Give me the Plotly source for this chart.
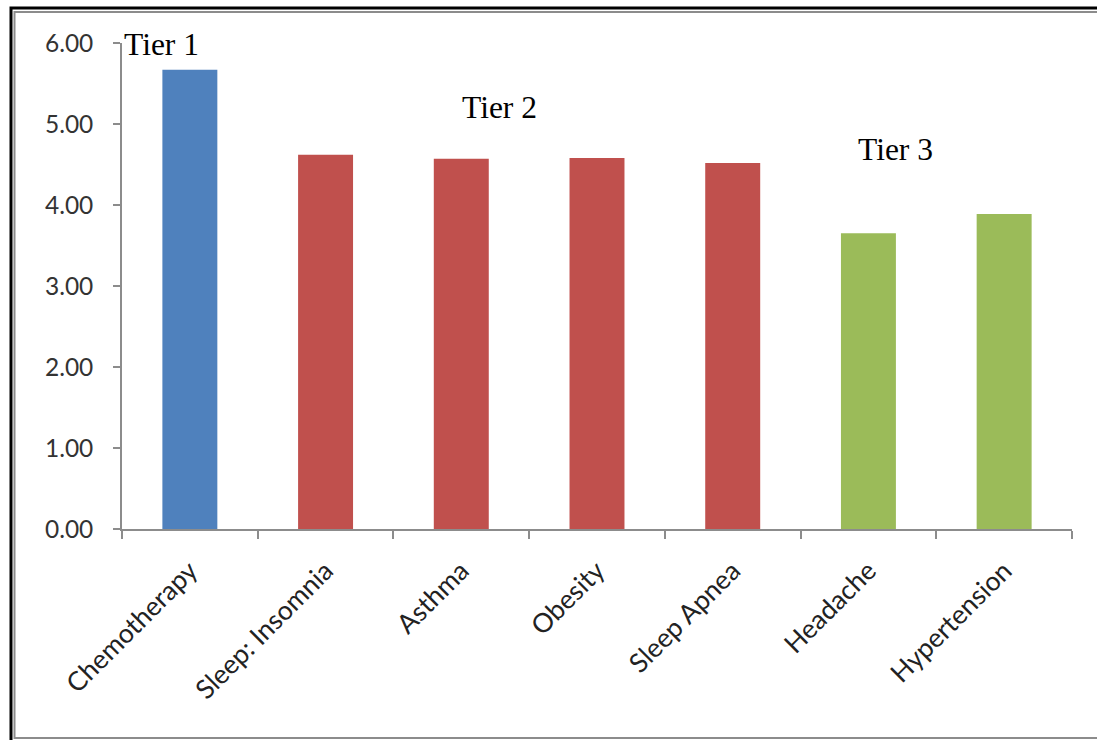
import plotly.graph_objects as go

categories = ["Chemotherapy", "Sleep: Insomnia", "Asthma", "Obesity", "Sleep Apnea", "Headache", "Hypertension"]
values = [5.67, 4.62, 4.57, 4.58, 4.52, 3.65, 3.89]
tiers = [1, 2, 2, 2, 2, 3, 3]
tier_colors = {1: "#4F81BD", 2: "#C0504D", 3: "#9BBB59"}
y_ticks = [0, 1, 2, 3, 4, 5, 6]
y_tick_labels = ["0.00", "1.00", "2.00", "3.00", "4.00", "5.00", "6.00"]
tier_labels = ["Tier 1", "Tier 2", "Tier 3"]

W, H = 1097, 740
L, R, T, B = 122, 25, 43, 211
pw, ph = W - L - R, H - T - B

def px(x):
    return (x - L) / pw

def py(y):
    return (H - B - y) / ph

fig = go.Figure()
fig.add_trace(go.Bar(
    x=categories, y=values,
    marker=dict(color=[tier_colors[t] for t in tiers], line=dict(width=0)),
    width=0.405,
))

fig.update_layout(
    width=W, height=H,
    margin=dict(l=L, r=R, t=T, b=B, pad=0),
    paper_bgcolor="white", plot_bgcolor="white",
    showlegend=False,
    font=dict(family="Lato", size=24, color="#333333"),
)
fig.update_xaxes(
    showline=True, linecolor="#8c8c8c", linewidth=1.5,
    ticks="outside", tickson="boundaries", ticklen=8, tickcolor="#8c8c8c", tickwidth=1.5,
    tickangle=-45, showgrid=False, zeroline=False, ticklabelstandoff=14,
    tickfont=dict(family="Lato", size=26.5, color="#222222"),
    range=[-0.5, 6.5],
)
fig.update_yaxes(
    range=[0, 6], tickvals=y_ticks, ticktext=y_tick_labels,
    showline=True, linecolor="#8c8c8c", linewidth=1.5,
    ticks="outside", ticklen=7, tickcolor="#8c8c8c", tickwidth=1.5,
    showgrid=False, zeroline=False, ticklabelstandoff=15,
    tickfont=dict(family="Lato", size=24.5, color="#333333"),
)

# tier annotations (positioned in data space)
tier_pos = [(-0.21, 5.985), (2.28, 5.2), (5.2, 4.68)]
for lab, (xc, yc) in zip(tier_labels, tier_pos):
    fig.add_annotation(x=xc, y=yc, xref="x", yref="y", text=lab, showarrow=False,
                       font=dict(family="Liberation Serif", size=31.5, color="black"),
                       xanchor="center", yanchor="middle")

# frame borders
fig.add_shape(type="path", xref="paper", yref="paper",
              path=f"M {px(11)} {py(745)} L {px(11)} {py(8)} L {px(1100)} {py(8)}",
              line=dict(color="black", width=3))
fig.add_shape(type="path", xref="paper", yref="paper",
              path=f"M {px(1100)} {py(738)} L {px(14.5)} {py(738)} L {px(14.5)} {py(12)} L {px(1100)} {py(12)}",
              line=dict(color="#8c8c8c", width=2))

fig.write_html("out.html")
